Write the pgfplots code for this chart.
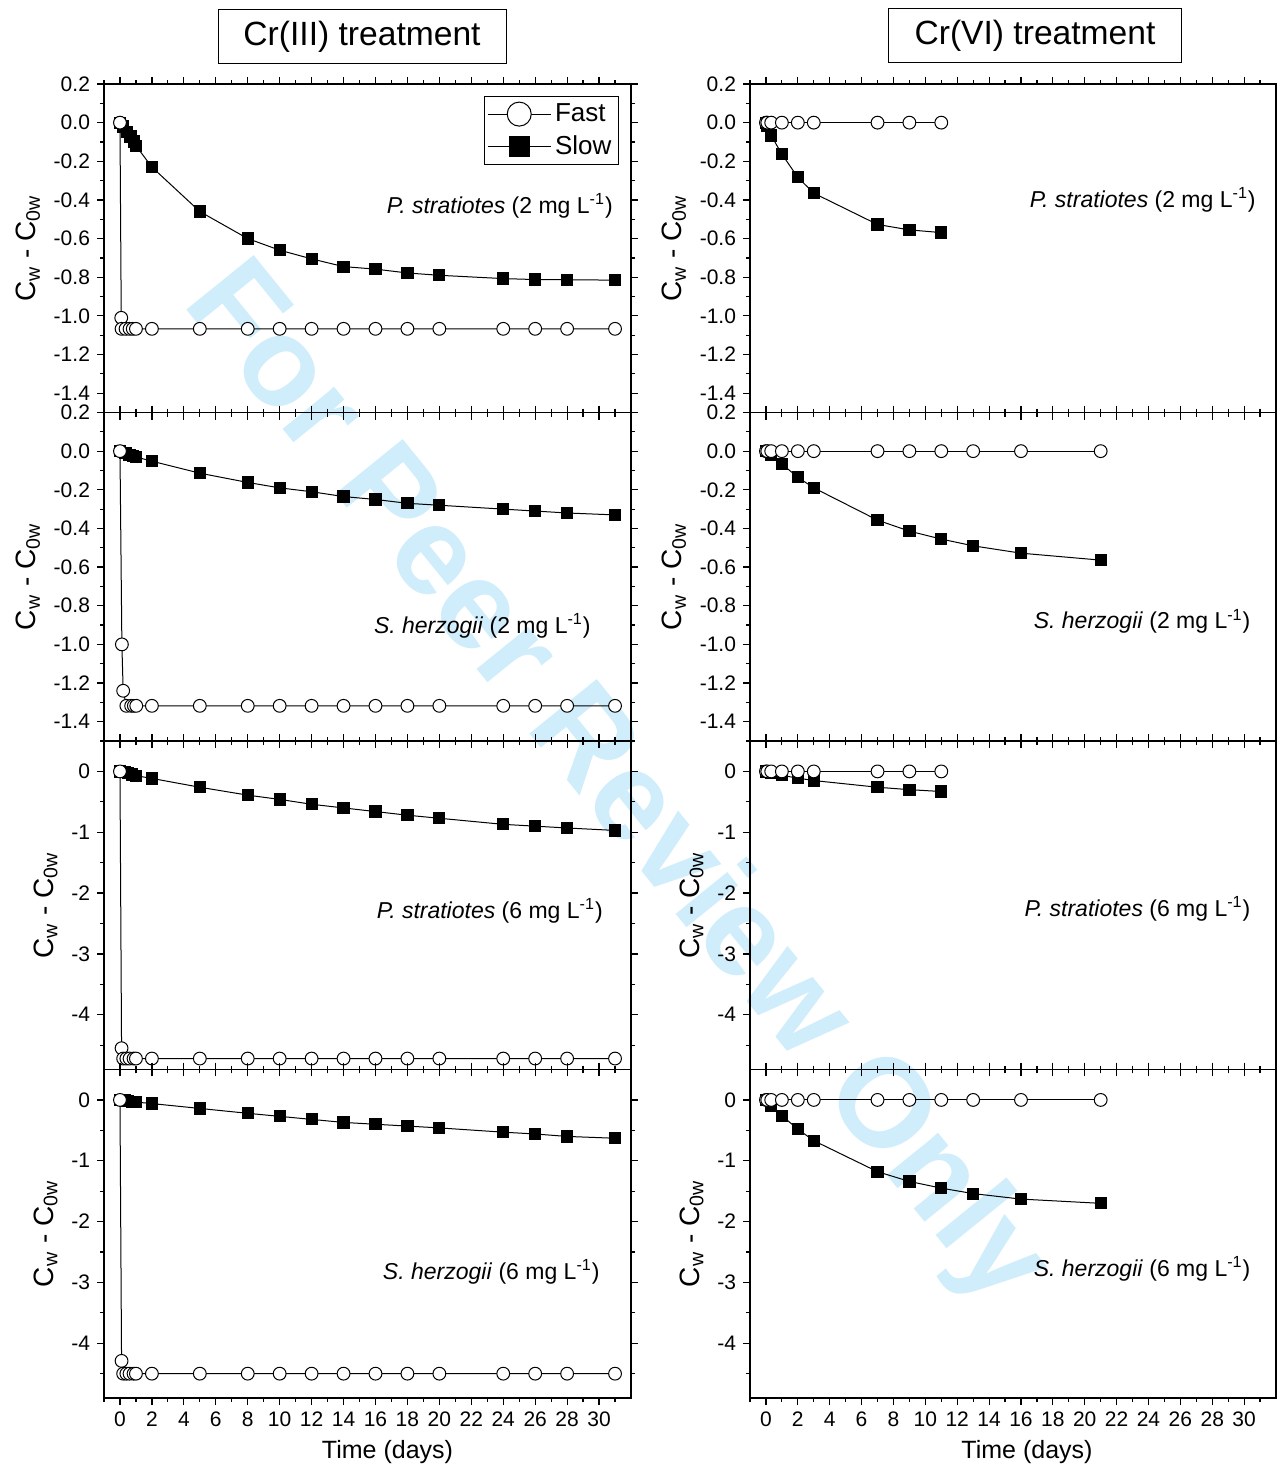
\documentclass[border=0pt]{standalone}
\usepackage{fontspec}
\setmainfont{Liberation Sans}
\usepackage{pgfplots}
\pgfplotsset{compat=1.18}
\definecolor{wmark}{RGB}{208,237,251}

\pgfplotsset{
  panel/.style={
    scale only axis, width=263.5pt, height=164.25pt, anchor=north west,
    xmin=-1, xmax=32,
    xtick={0,2,...,30}, minor xtick={-1,1,...,31}, xticklabels={},
    tick align=outside, major tick length=3.5pt, minor tick length=2pt,
    axis line style={line width=0.8pt},
    every tick/.style={black, line width=0.6pt},
    ticklabel style={font=\fontsize{10.5}{12}\selectfont},
    /pgf/number format/assume math mode=true,
    ylabel={C\textsubscript{w} - C\textsubscript{0w}},
    ylabel style={font=\fontsize{14}{16}\selectfont},
    clip=false,
  },
  lowc/.style={
    ymin=-1.5, ymax=0.2,
    ytick={-1.4,-1.2,-1,-0.8,-0.6,-0.4,-0.2,0,0.2},
    minor ytick={-1.5,-1.3,-1.1,-0.9,-0.7,-0.5,-0.3,-0.1,0.1},
    yticklabel style={/pgf/number format/.cd, fixed, fixed zerofill, precision=1},
  },
  highc/.style={
    ymin=-4.9, ymax=0.5,
    ytick={-4,-3,-2,-1,0}, minor ytick={-4.5,-3.5,-2.5,-1.5,-0.5},
  },
  bottomrow/.style={
    xticklabels={0,2,4,6,8,10,12,14,16,18,20,22,24,26,28,30},
    xlabel={Time (days)},
    xlabel style={font=\fontsize{12.5}{14}\selectfont},
  },
  fastp/.style={black, line width=0.5pt, mark=*, mark size=3.2pt,
    mark options={fill=white, draw=black, line width=0.5pt}},
  slowp/.style={black, line width=0.5pt, mark=square*, mark size=2.8pt,
    mark options={fill=black}},
}
\newcommand{\annot}[4]{\node[anchor=east, inner sep=0pt, font=\fontsize{11.5}{13}\selectfont]
  at (rel axis cs:#1,#2) {\textit{#3} (#4 mg L\textsuperscript{-1})};}

\begin{document}
\begin{tikzpicture}
\useasboundingbox (0,0) rectangle (638pt,-733pt);

% watermark
\node[text=wmark, font=\fontsize{63}{70}\selectfont\bfseries, rotate=-51]
  at (307pt,-393pt) {For Peer Review Only};

% column titles
\node[draw, line width=0.5pt, minimum width=144pt, minimum height=27pt,
  font=\fontsize{16.8}{19}\selectfont] at (181pt,-18.5pt) {Cr(III) treatment};
\node[draw, line width=0.5pt, minimum width=146.5pt, minimum height=27pt,
  font=\fontsize{16.8}{19}\selectfont] at (517.5pt,-18pt) {Cr(VI) treatment};

%% ===== Cr(III), P. stratiotes 2 mg =====
\begin{axis}[panel, lowc, at={(52pt,-42pt)},
  legend style={at={(0.977,0.963)}, anchor=north east, draw=black, line width=0.5pt,
    font=\fontsize{13}{15}\selectfont, row sep=1.5pt, inner sep=1.5pt},
  legend cell align=left,
  legend image code/.code={\draw[mark repeat=2, mark phase=2]
    plot coordinates {(0cm,0cm)(0.55cm,0cm)(1.1cm,0cm)};}]
\addlegendimage{black, line width=0.5pt, mark=*, mark size=6pt,
  mark options={fill=white, draw=black}}
\addlegendentry{Fast}
\addlegendimage{black, line width=0.5pt, mark=square*, mark size=5pt}
\addlegendentry{Slow}
\addplot[slowp, forget plot] coordinates {
  (0,0) (0.21,-0.02) (0.46,-0.047) (0.66,-0.072) (0.87,-0.098) (1,-0.12)
  (2,-0.23) (5,-0.46) (8,-0.60) (10,-0.66) (12,-0.705) (14,-0.745)
  (16,-0.758) (18,-0.778) (20,-0.79) (24,-0.807) (26,-0.812) (28,-0.813) (31,-0.815)};
\addplot[fastp, forget plot] coordinates {
  (0,0) (0.08,-1.01) (0.1,-1.067) (0.35,-1.067) (0.6,-1.067) (0.8,-1.067) (1,-1.067)
  (2,-1.067) (5,-1.067) (8,-1.067) (10,-1.067) (12,-1.067) (14,-1.067) (16,-1.067)
  (18,-1.067) (20,-1.067) (24,-1.067) (26,-1.067) (28,-1.067) (31,-1.067)};
\annot{0.966}{0.629}{P. stratiotes}{2}
\end{axis}

%% ===== Cr(III), S. herzogii 2 mg =====
\begin{axis}[panel, lowc, at={(52pt,-206.25pt)}]
\addplot[slowp] coordinates {
  (0,0) (0.35,-0.01) (0.6,-0.02) (0.8,-0.025) (1,-0.03)
  (2,-0.052) (5,-0.114) (8,-0.162) (10,-0.19) (12,-0.21) (14,-0.235)
  (16,-0.25) (18,-0.27) (20,-0.28) (24,-0.30) (26,-0.31) (28,-0.32) (31,-0.33)};
\addplot[fastp] coordinates {
  (0,0) (0.12,-1.0) (0.2,-1.24) (0.4,-1.318) (0.7,-1.318) (0.87,-1.318) (1.02,-1.318)
  (2,-1.318) (5,-1.318) (8,-1.318) (10,-1.318) (12,-1.318) (14,-1.318) (16,-1.318)
  (18,-1.318) (20,-1.318) (24,-1.318) (26,-1.318) (28,-1.318) (31,-1.318)};
\annot{0.924}{0.351}{S. herzogii}{2}
\end{axis}

%% ===== Cr(III), P. stratiotes 6 mg =====
\begin{axis}[panel, highc, at={(52pt,-370.5pt)}]
\addplot[slowp] coordinates {
  (0,0) (0.3,-0.01) (0.5,-0.03) (0.75,-0.05) (1,-0.07)
  (2,-0.115) (5,-0.26) (8,-0.39) (10,-0.46) (12,-0.54) (14,-0.60)
  (16,-0.66) (18,-0.72) (20,-0.77) (24,-0.87) (26,-0.90) (28,-0.93) (31,-0.97)};
\addplot[fastp] coordinates {
  (0,0) (0.1,-4.55) (0.2,-4.72) (0.4,-4.72) (0.6,-4.72) (0.85,-4.72) (1,-4.72)
  (2,-4.72) (5,-4.72) (8,-4.72) (10,-4.72) (12,-4.72) (14,-4.72) (16,-4.72)
  (18,-4.72) (20,-4.72) (24,-4.72) (26,-4.72) (28,-4.72) (31,-4.72)};
\annot{0.947}{0.483}{P. stratiotes}{6}
\end{axis}

%% ===== Cr(III), S. herzogii 6 mg =====
\begin{axis}[panel, highc, bottomrow, at={(52pt,-534.75pt)},
  xlabel style={xshift=10pt}]
\addplot[slowp] coordinates {
  (0,0) (0.3,-0.01) (0.5,-0.02) (0.75,-0.03) (1,-0.035)
  (2,-0.06) (5,-0.14) (8,-0.22) (10,-0.27) (12,-0.32) (14,-0.37)
  (16,-0.40) (18,-0.43) (20,-0.46) (24,-0.53) (26,-0.56) (28,-0.60) (31,-0.63)};
\addplot[fastp] coordinates {
  (0,0) (0.1,-4.29) (0.2,-4.50) (0.4,-4.50) (0.6,-4.50) (0.85,-4.50) (1,-4.50)
  (2,-4.50) (5,-4.50) (8,-4.50) (10,-4.50) (12,-4.50) (14,-4.50) (16,-4.50)
  (18,-4.50) (20,-4.50) (24,-4.50) (26,-4.50) (28,-4.50) (31,-4.50)};
\annot{0.941}{0.384}{S. herzogii}{6}
\end{axis}

%% ===== Cr(VI), P. stratiotes 2 mg =====
\begin{axis}[panel, lowc, width=263pt, at={(375pt,-42pt)}]
\addplot[slowp] coordinates {
  (0,0) (0.083,-0.015) (0.33,-0.067) (1,-0.163) (2,-0.283) (3,-0.365)
  (7,-0.527) (9,-0.555) (11,-0.569)};
\addplot[fastp] coordinates {
  (0,0) (0.083,0) (0.33,0) (1,0) (2,0) (3,0) (7,0) (9,0) (11,0)};
\annot{0.962}{0.647}{P. stratiotes}{2}
\end{axis}

%% ===== Cr(VI), S. herzogii 2 mg =====
\begin{axis}[panel, lowc, width=263pt, at={(375pt,-206.25pt)}]
\addplot[slowp] coordinates {
  (0,0) (0.33,-0.02) (1,-0.067) (2,-0.135) (3,-0.19) (7,-0.357)
  (9,-0.414) (11,-0.455) (13,-0.49) (16,-0.528) (21,-0.564)};
\addplot[fastp] coordinates {
  (0,0) (0.083,0) (0.33,0) (1,0) (2,0) (3,0) (7,0) (9,0) (11,0) (13,0) (16,0) (21,0)};
\annot{0.952}{0.364}{S. herzogii}{2}
\end{axis}

%% ===== Cr(VI), P. stratiotes 6 mg =====
\begin{axis}[panel, highc, width=263pt, at={(375pt,-370.5pt)}]
\addplot[slowp] coordinates {
  (0,0) (0.33,-0.02) (1,-0.065) (2,-0.11) (3,-0.15) (7,-0.26) (9,-0.30) (11,-0.33)};
\addplot[fastp] coordinates {
  (0,0) (0.083,0) (0.33,0) (1,0) (2,0) (3,0) (7,0) (9,0) (11,0)};
\annot{0.952}{0.489}{P. stratiotes}{6}
\end{axis}

%% ===== Cr(VI), S. herzogii 6 mg =====
\begin{axis}[panel, highc, bottomrow, width=263pt, at={(375pt,-534.75pt)},
  xlabel style={xshift=7pt}]
\addplot[slowp] coordinates {
  (0,0) (0.33,-0.10) (1,-0.26) (2,-0.48) (3,-0.67) (7,-1.18) (9,-1.34)
  (11,-1.45) (13,-1.54) (16,-1.63) (21,-1.70)};
\addplot[fastp] coordinates {
  (0,0) (0.083,0) (0.33,0) (1,0) (2,0) (3,0) (7,0) (9,0) (11,0) (13,0) (16,0) (21,0)};
\annot{0.952}{0.393}{S. herzogii}{6}
\end{axis}
\end{tikzpicture}
\end{document}
